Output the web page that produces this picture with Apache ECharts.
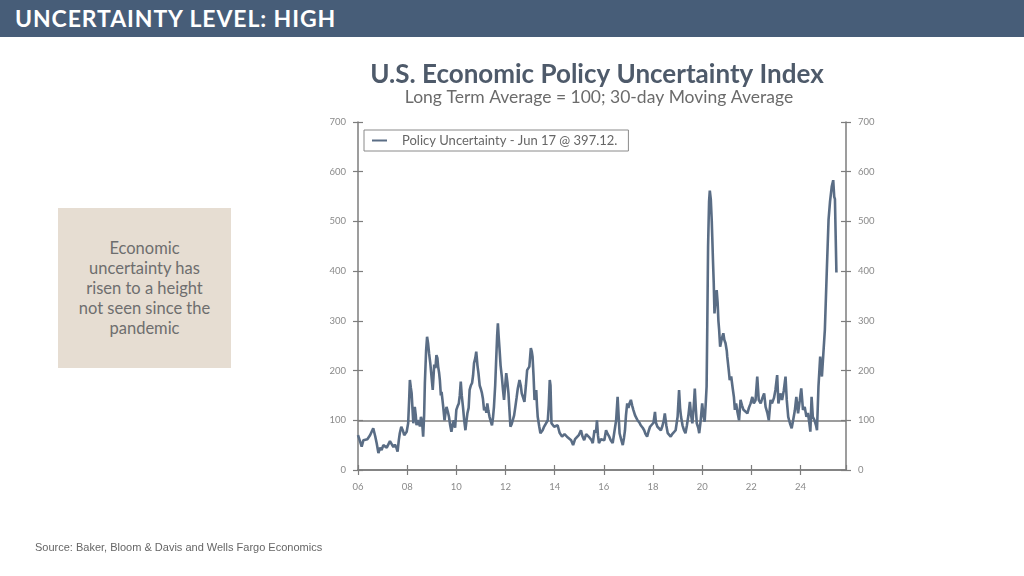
<!DOCTYPE html>
<html>
<head>
<meta charset="utf-8">
<script src="https://cdn.jsdelivr.net/npm/echarts@6/dist/echarts.min.js"></script>
<style>
html,body{margin:0;padding:0;width:1024px;height:576px;overflow:hidden;background:#fff;}
#chart{position:absolute;left:0;top:0;width:1024px;height:576px;}
#header{position:absolute;left:0;top:0;width:1024px;height:37px;background:#475d78;color:#fff;font-family:Lato,sans-serif;font-weight:bold;font-size:23px;line-height:36px;padding-left:15px;box-sizing:border-box;letter-spacing:0.9px;}
#box{position:absolute;left:58px;top:208px;width:173px;height:160px;background:#e6ddd2;color:#6e6e6e;font-family:Lato,sans-serif;font-size:16.5px;line-height:20px;text-align:center;display:flex;align-items:center;justify-content:center;}
#source{position:absolute;left:35px;top:541px;font-family:"Liberation Sans",Arial,sans-serif;font-size:11px;color:#666;}
</style>
</head>
<body>
<div id="chart"></div>
<div id="header">UNCERTAINTY LEVEL: HIGH</div>
<div id="box"><div>Economic<br>uncertainty has<br>risen to a height<br>not seen since the<br>pandemic</div></div>
<div id="source">Source: Baker, Bloom &amp; Davis and Wells Fargo Economics</div>
<script>
const titleText = 'U.S. Economic Policy Uncertainty Index';
const subtitleText = 'Long Term Average = 100; 30-day Moving Average';
const seriesName = 'Policy Uncertainty - Jun 17 @ 397.12.';
const yTicks = [0, 100, 200, 300, 400, 500, 600, 700];
const xTickLabels = ['06','08','10','12','14','16','18','20','22','24'];
const longTermAverage = 100;

// decimal years
const years = [
2006.00,2006.08,2006.15,2006.22,2006.28,2006.38,2006.49,2006.55,2006.62,2006.70,2006.76,2006.83,2006.90,2006.96,
2007.03,2007.10,2007.17,2007.23,2007.30,2007.37,2007.44,2007.50,2007.56,2007.61,2007.66,2007.70,2007.76,2007.82,2007.88,2007.93,2007.98,
2008.04,2008.08,2008.11,2008.15,2008.18,2008.22,2008.25,2008.31,2008.35,2008.38,2008.43,2008.47,2008.52,2008.56,2008.61,2008.65,2008.69,2008.72,2008.77,2008.81,2008.85,2008.89,2008.94,2008.99,
2009.04,2009.10,2009.15,2009.19,2009.23,2009.26,2009.30,2009.33,2009.37,2009.40,2009.46,2009.52,2009.56,2009.60,2009.65,2009.70,2009.75,2009.80,2009.85,2009.90,2009.95,
2010.00,2010.05,2010.10,2010.14,2010.18,2010.22,2010.27,2010.32,2010.37,2010.41,2010.45,2010.50,2010.54,2010.59,2010.64,2010.68,2010.72,2010.77,2010.81,2010.86,2010.90,2010.95,2010.99,
2011.04,2011.08,2011.13,2011.18,2011.22,2011.26,2011.30,2011.35,2011.40,2011.45,2011.49,2011.53,2011.58,2011.62,2011.66,2011.69,2011.72,2011.76,2011.80,2011.85,2011.90,2011.94,2011.98,
2012.03,2012.08,2012.12,2012.16,2012.20,2012.25,2012.30,2012.35,2012.40,2012.45,2012.50,2012.57,2012.62,2012.66,2012.72,2012.77,2012.83,2012.88,2012.93,2012.97,
2013.03,2013.07,2013.10,2013.14,2013.18,2013.22,2013.25,2013.28,2013.31,2013.37,2013.42,2013.47,2013.51,2013.56,2013.60,2013.66,2013.72,2013.76,2013.80,2013.83,2013.87,2013.93,2013.98,
2014.05,2014.12,2014.20,2014.30,2014.40,2014.50,2014.58,2014.67,2014.75,2014.83,2014.90,2014.98,
2015.07,2015.13,2015.20,2015.28,2015.35,2015.42,2015.50,2015.55,2015.62,2015.68,2015.72,2015.76,2015.80,2015.88,2015.95,
2016.02,2016.09,2016.16,2016.22,2016.28,2016.36,2016.42,2016.50,2016.56,2016.60,2016.64,2016.70,2016.77,2016.82,2016.86,2016.90,2016.95,
2017.00,2017.05,2017.10,2017.15,2017.20,2017.27,2017.37,2017.45,2017.50,2017.58,2017.64,2017.70,2017.76,2017.82,2017.88,2017.95,
2018.02,2018.08,2018.12,2018.18,2018.25,2018.32,2018.38,2018.44,2018.48,2018.54,2018.60,2018.66,2018.72,2018.78,2018.85,2018.92,
2019.00,2019.06,2019.10,2019.14,2019.20,2019.26,2019.32,2019.38,2019.44,2019.50,2019.55,2019.60,2019.66,2019.70,2019.74,2019.78,2019.84,2019.88,2019.94,
2020.00,2020.05,2020.10,2020.14,2020.18,2020.21,2020.24,2020.28,2020.31,2020.35,2020.39,2020.41,2020.44,2020.47,2020.50,2020.55,2020.59,2020.63,2020.66,2020.69,2020.73,2020.78,2020.83,2020.86,2020.90,2020.95,
2021.00,2021.02,2021.08,2021.12,2021.18,2021.24,2021.29,2021.33,2021.38,2021.44,2021.50,2021.56,2021.62,2021.68,2021.75,2021.84,2021.90,2021.97,
2022.04,2022.10,2022.17,2022.24,2022.30,2022.38,2022.45,2022.52,2022.58,2022.65,2022.71,2022.78,2022.84,2022.92,2022.98,
2023.05,2023.10,2023.18,2023.25,2023.32,2023.39,2023.44,2023.50,2023.57,2023.64,2023.70,2023.77,2023.83,2023.90,2023.97,
2024.03,2024.10,2024.17,2024.24,2024.30,2024.36,2024.40,2024.45,2024.50,2024.57,2024.63,2024.67,2024.73,2024.80,2024.87,2024.93,2024.99,
2025.07,2025.14,2025.20,2025.27,2025.33,2025.37,2025.40,2025.43,2025.46
];
const policyUncertainty = [
70,58,47,60,64,62,70,66,84,68,54,34,45,40,
50,54,45,47,58,56,46,51,45,37,60,74,87,80,70,68,77,
94,140,181,165,155,120,94,127,110,90,100,97,88,107,95,67,110,175,240,268,255,235,215,218,
161,212,205,231,225,208,195,181,150,157,130,100,115,127,118,107,90,77,92,100,85,
121,128,134,150,178,150,127,100,80,98,114,125,161,170,175,190,215,225,238,210,195,170,164,
155,144,120,127,115,134,120,107,98,90,105,127,170,221,270,295,270,241,210,188,160,141,165,
195,175,154,120,87,92,94,110,127,145,164,181,170,154,145,137,170,201,200,208,
245,238,228,190,141,150,161,130,107,88,74,78,80,86,90,95,100,130,181,170,94,98,87,
84,90,75,67,72,67,70,60,50,62,64,70,
80,68,60,72,70,65,60,54,80,75,100,70,54,62,58,
60,80,72,67,60,54,74,100,147,110,74,62,50,65,80,110,134,
125,135,141,130,121,110,100,95,90,85,80,72,67,78,87,84,
95,117,95,87,84,80,88,100,114,90,74,70,67,72,74,80,
107,161,125,107,90,80,74,90,110,137,110,94,130,164,125,94,85,74,100,
134,110,97,130,168,300,450,540,562,545,500,469,420,376,315,345,362,335,300,282,248,260,270,275,262,255,
240,228,201,181,188,165,147,121,134,115,100,141,130,121,118,114,125,134,
147,134,140,188,141,134,145,154,127,115,100,141,134,145,161,
191,134,154,141,160,188,141,107,94,84,100,120,147,114,140,
164,121,127,107,115,94,77,147,107,100,90,80,168,228,188,235,282,
402,503,540,570,583,550,545,470,397.12
];

const gray = '#7d7d7d';
const labelColor = '#8a8a8a';
const lineColor = '#5a6d85';
const font = 'Lato, "Noto Sans", sans-serif';

const chart = echarts.init(document.getElementById('chart'));
const xBase = {type:'value', min:2006, max:2025.85, interval:2, splitLine:{show:false}};
const yBase = {type:'value', min:yTicks[0], max:yTicks[yTicks.length-1], interval:100, splitLine:{show:false}};
const xLabelFmt = v => {
  const r = Math.round(v);
  if (Math.abs(v - r) > 1e-6 || r % 2 !== 0) return '';
  const idx = (r - 2006) / 2;
  return xTickLabels[idx] || '';
};
chart.setOption({
  animation:false,
  title:[
    {text:titleText, left:597, top:62, padding:0, textAlign:'center',
     textStyle:{fontFamily:font, fontWeight:'bold', fontSize:26, color:'#4e5a6a'}},
    {text:subtitleText, left:599, top:88, padding:0, textAlign:'center',
     textStyle:{fontFamily:font, fontWeight:'normal', fontSize:17.5, color:'#6b6b6b'}}
  ],
  grid:{left:358, right:178, top:122, bottom:106, containLabel:false},
  legend:{
    left:364, top:130, orient:'horizontal',
    borderColor:'#8a8a8a', borderWidth:1, padding:[4,11,4,8],
    icon:'rect', itemWidth:15, itemHeight:2,
    textStyle:{fontFamily:font, fontSize:13, color:'#666', padding:[0,0,0,10]},
    data:[seriesName]
  },
  xAxis:[
    Object.assign({}, xBase, {position:'bottom',
      axisLine:{show:true, lineStyle:{color:gray, width:1.5}},
      axisTick:{show:true, length:5, lineStyle:{color:gray, width:1.2}},
      axisLabel:{formatter:xLabelFmt, color:labelColor, fontSize:9.5, fontFamily:font, margin:12, showMaxLabel:false}}),
    Object.assign({}, xBase, {position:'bottom',
      axisLine:{show:false}, axisTick:{show:true, inside:true, length:5, lineStyle:{color:gray, width:1.2}},
      axisLabel:{show:false}}),
    Object.assign({}, xBase, {position:'top',
      axisLine:{show:true, lineStyle:{color:gray, width:1.5}}, axisTick:{show:false}, axisLabel:{show:false}})
  ],
  yAxis:[
    Object.assign({}, yBase, {position:'left',
      axisLine:{show:true, lineStyle:{color:gray, width:1.5}},
      axisTick:{show:true, length:5, lineStyle:{color:gray, width:1.2}},
      axisLabel:{color:labelColor, fontSize:9.5, fontFamily:font, margin:12}}),
    Object.assign({}, yBase, {position:'left',
      axisLine:{show:false}, axisTick:{show:true, inside:true, length:5, lineStyle:{color:gray, width:1.2}},
      axisLabel:{show:false}}),
    Object.assign({}, yBase, {position:'right',
      axisLine:{show:true, lineStyle:{color:gray, width:1.5}},
      axisTick:{show:true, length:5, lineStyle:{color:gray, width:1.2}},
      axisLabel:{color:labelColor, fontSize:9.5, fontFamily:font, margin:12}}),
    Object.assign({}, yBase, {position:'right',
      axisLine:{show:false}, axisTick:{show:true, inside:true, length:5, lineStyle:{color:gray, width:1.2}},
      axisLabel:{show:false}})
  ],
  series:[{
    name:seriesName, type:'line', xAxisIndex:0, yAxisIndex:0,
    data:years.map((y,i)=>[y, policyUncertainty[i]]),
    showSymbol:false, symbol:'none',
    lineStyle:{color:lineColor, width:2.6}, itemStyle:{color:lineColor},
    markLine:{silent:true, symbol:'none', label:{show:false}, z:1,
      lineStyle:{color:gray, type:'solid', width:1.5},
      data:[{yAxis:longTermAverage}]}
  }]
});
</script>
</body>
</html>
